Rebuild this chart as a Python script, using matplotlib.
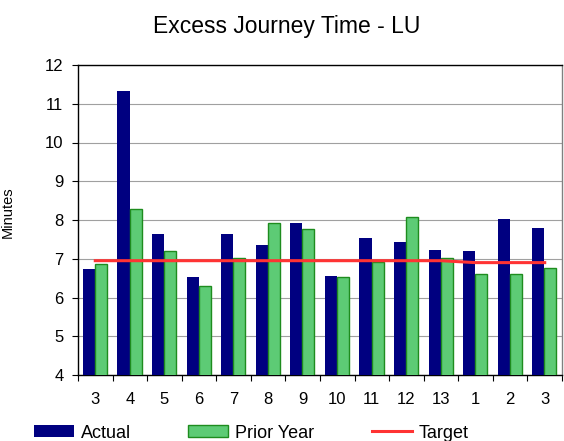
import matplotlib
matplotlib.use("Agg")
import matplotlib.pyplot as plt
import numpy as np
from matplotlib.patches import Patch
from matplotlib.lines import Line2D

plt.rcParams['font.family'] = ['Liberation Sans', 'DejaVu Sans']

periods = ["3", "4", "5", "6", "7", "8", "9", "10", "11", "12", "13", "1", "2", "3"]
actual = [6.74, 11.33, 7.64, 6.53, 7.64, 7.35, 7.92, 6.55, 7.54, 7.43, 7.23, 7.20, 8.03, 7.79]
prior_year = [6.86, 8.29, 7.20, 6.29, 7.01, 7.91, 7.77, 6.52, 6.92, 8.07, 7.01, 6.60, 6.60, 6.75]
target = [6.95, 6.95, 6.95, 6.95, 6.95, 6.95, 6.95, 6.95, 6.95, 6.95, 6.95, 6.90, 6.90, 6.90]

W, H = 564, 441
fig = plt.figure(figsize=(W / 100, H / 100), dpi=100)
ax = fig.add_axes([78 / W, 1 - 375 / H, (562 - 78) / W, (375 - 65) / H])

x = np.arange(len(periods))
bw = 0.35
ax.bar(x - 0.185, actual, width=bw, color='#000080', edgecolor='none', zorder=3)
ax.bar(x + 0.165, prior_year, width=bw, color='#5DCB75', edgecolor='#1E8C1E',
       linewidth=1.0, zorder=3)
ax.plot(x, target, color='#FF3333', linewidth=2.2, zorder=4)

ax.set_xlim(-0.5, len(periods) - 0.5)
ax.set_ylim(4, 12)
ax.set_yticks(range(4, 13))
ax.yaxis.grid(True, color='#A0A0A0', linewidth=0.8, zorder=0)
ax.set_axisbelow(True)

ax.set_xticks(x)
ax.set_xticklabels(periods)
ax.set_xticks(np.arange(-0.5, len(periods), 1.0), minor=True)
ax.tick_params(axis='x', which='major', length=0, pad=12, labelsize=12)
ax.tick_params(axis='x', which='minor', length=4.5, width=0.8, direction='out')
ax.tick_params(axis='y', length=4.5, width=0.8, direction='out', pad=6, labelsize=12)

for s in ['left', 'bottom', 'top']:
    ax.spines[s].set_color('black')
    ax.spines[s].set_linewidth(1.0)
ax.spines['right'].set_color('#808080')
ax.spines['right'].set_linewidth(1.0)

fig.text(8 / W, 1 - 212 / H, "Minutes", rotation=90, ha='center', va='center', fontsize=10.5)
fig.text(286.5 / W, 1 - 27 / H, "Excess Journey Time - LU", ha='center', va='center', fontsize=16.5)

handles = [Patch(facecolor='#000080', edgecolor='none'),
           Patch(facecolor='#5DCB75', edgecolor='#1E8C1E', linewidth=1.0),
           Line2D([0], [0], color='#FF3333', linewidth=2.2)]
fig.legend(handles, ["Actual", "Prior Year", "Target"], ncol=3, frameon=False,
           loc='center left', bbox_to_anchor=(34 / W, 1 - 433 / H),
           borderpad=0, borderaxespad=0, fontsize=13,
           handlelength=2.2, handleheight=0.68, handletextpad=0.38, columnspacing=3.2)

fig.savefig("out.png", dpi=100)
